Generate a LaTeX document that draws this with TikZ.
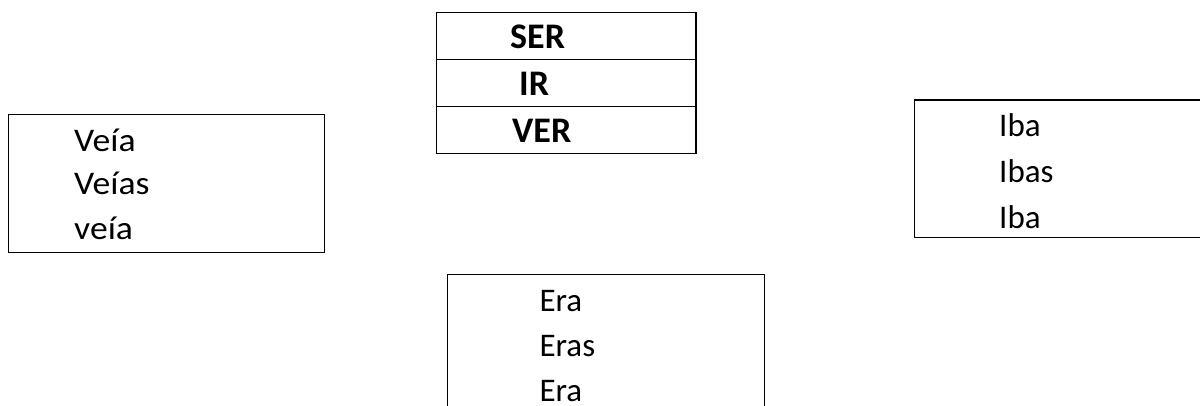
\documentclass[tikz,border=0pt]{standalone}
\usepackage{fontspec}
\setmainfont{Carlito}
\begin{document}
\begin{tikzpicture}[x=1pt,y=-1pt,
  boxline/.style={draw=black,line width=1.2pt},
  word/.style={anchor=base west,inner sep=0pt,font=\fontsize{33}{40}\selectfont},
  bword/.style={anchor=base west,inner sep=0pt,font=\fontsize{36}{40}\selectfont\bfseries}]
\useasboundingbox (0,0) rectangle (1200,405);
\clip (0,0) rectangle (1200,405);
% top table
\draw[boxline] (436.7,12.7) rectangle (696,153.3);
\draw[boxline] (436.7,59.3) -- (696,59.3);
\draw[boxline] (436.7,106.7) -- (696,106.7);
\node[bword] (ser) at (510,48.3) {SER};
\node[bword] (ir) at (519,95.7) {IR};
\node[bword] (ver) at (512,142.7) {VER};
% left box
\draw[boxline] (8.3,114.3) rectangle (324.3,252.3);
\node[word,xscale=1.08] (v1) at (74,151.7) {Veía};
\node[word,xscale=1.08] (v2) at (74,194.3) {Veías};
\node[word,xscale=1.08] (v3) at (74,239.3) {veía};
% right box
\draw[boxline] (914.7,100) rectangle (1210,237.7);
\node[word] (i1) at (999,136.7) {Iba};
\node[word] (i2) at (999,182.7) {Ibas};
\node[word] (i3) at (999,228.7) {Iba};
% bottom box
\draw[boxline] (447.7,274.3) rectangle (764.3,420);
\node[word] (e1) at (539.3,311.7) {Era};
\node[word] (e2) at (539.3,356.7) {Eras};
\node[word] (e3) at (539.3,401.7) {Era};
\end{tikzpicture}
\end{document}
